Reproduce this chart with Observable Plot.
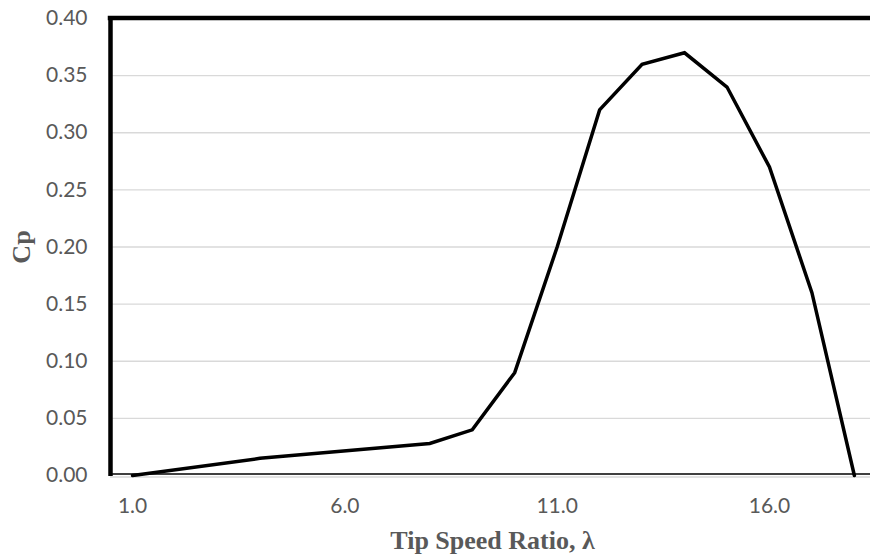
<!DOCTYPE html>
<html>
<head>
<meta charset="utf-8">
<script src="https://cdn.jsdelivr.net/npm/d3@7"></script>
<script src="https://cdn.jsdelivr.net/npm/@observablehq/plot@0.6"></script>
<style>
  html, body { margin: 0; padding: 0; background: #ffffff; }
</style>
</head>
<body>
<div id="chart"></div>
<script>
// Data
const lambda = [1, 4, 8, 9, 10, 11, 12, 13, 14, 15, 16, 17, 18];
const cp = [0, 0.015, 0.028, 0.04, 0.09, 0.20, 0.32, 0.36, 0.37, 0.34, 0.27, 0.16, 0];
const xTicks = [1, 6, 11, 16];
const yTicks = [0, 0.05, 0.10, 0.15, 0.20, 0.25, 0.30, 0.35, 0.40];
const gridValues = [0.05, 0.10, 0.15, 0.20, 0.25, 0.30, 0.35];
const xTitle = "Tip Speed Ratio, \u03bb";
const yTitle = "Cp";

const data = lambda.map((l, i) => ({lambda: l, cp: cp[i]}));

const labelColor = "#595959";
const gridColor = "#d9d9d9";

const chart = Plot.plot({
  width: 870,
  height: 560,
  marginLeft: 110,
  marginRight: 0,
  marginTop: 18,
  marginBottom: 85,
  style: {fontFamily: "Lato, 'Open Sans', sans-serif", fontSize: "21px", color: labelColor, background: "#ffffff"},
  x: {domain: [0.48, 18.38]},
  y: {domain: [0, 0.40]},
  marks: [
    Plot.ruleY(gridValues, {stroke: gridColor, strokeWidth: 1.4}),
    Plot.ruleY([0], {stroke: gridColor, strokeWidth: 1.5, dy: 1.5}),
    Plot.ruleY([0], {stroke: "#000000", strokeWidth: 1.5, dy: -1.5}),
    Plot.axisX({ticks: xTicks, tickFormat: d3.format(".1f"), tickSize: 0, tickPadding: 23, label: null, fontSize: 21}),
    Plot.axisY({ticks: yTicks, tickFormat: d3.format(".2f"), tickSize: 0, tickPadding: 23, label: null, fontSize: 21}),
    Plot.line(data, {x: "lambda", y: "cp", stroke: "#000000", strokeWidth: 3.5, strokeLinejoin: "miter", strokeMiterlimit: 4}),
    Plot.ruleX([0.48], {y1: 0, y2: 0.40, stroke: "#000000", strokeWidth: 4.5, dy: 1}),
    Plot.ruleY([0.40], {stroke: "#000000", strokeWidth: 4.5, dy: -0.5, strokeLinecap: "square"}),
    Plot.text([xTitle], {frameAnchor: "bottom", textAnchor: "middle", lineAnchor: "middle", dx: 2, dy: 65, fontFamily: "'Liberation Serif', 'Times New Roman', serif", fontWeight: "bold", fontSize: 26, fill: labelColor}),
    Plot.text([yTitle], {frameAnchor: "left", textAnchor: "middle", lineAnchor: "middle", dx: -89, dy: 0, rotate: -90, fontFamily: "'Liberation Serif', 'Times New Roman', serif", fontWeight: "bold", fontSize: 26, fill: labelColor})
  ]
});

document.getElementById("chart").appendChild(chart);
</script>
</body>
</html>
